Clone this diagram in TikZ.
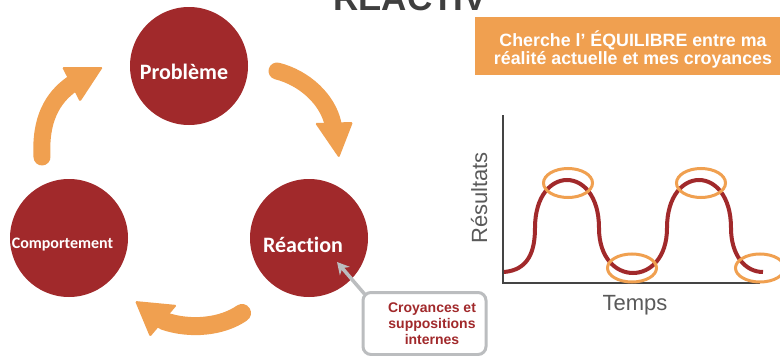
\documentclass[tikz,border=0pt]{standalone}
\usepackage{fontspec}
\setmainfont{Liberation Sans}
\newfontfamily\calfont[Ligatures={NoCommon}]{Carlito}
\usetikzlibrary{arrows.meta}
\definecolor{brick}{HTML}{A1292B}
\definecolor{tangerine}{HTML}{F0A050}
\definecolor{ash}{HTML}{BBBDBF}
\definecolor{charcoal}{HTML}{3F3F3F}
\definecolor{axisgrey}{HTML}{444444}
\definecolor{labelgrey}{HTML}{5A5A5A}

\begin{document}
\begin{tikzpicture}[x=1pt,y=-1pt,
  stage/.style={circle, fill=brick, minimum size=118pt, inner sep=0pt},
  stagetext/.style={text=white, inner sep=0pt, anchor=base, font=\calfont\bfseries\fontsize{22}{24}\selectfont},
  bodyline/.style={draw=tangerine, line width=17pt, line cap=round},
  headtri/.style={fill=tangerine, rounded corners=1.5pt},
  peakring/.style={draw=tangerine, line width=3pt},
  axisline/.style={draw=axisgrey, line width=2.5pt},
  axislabel/.style={text=labelgrey, inner sep=0pt, font=\fontsize{22}{24}\selectfont},
]
\clip (0,0) rectangle (780,356);
\fill[white] (0,0) rectangle (780,356);

% title, mostly above the page edge
\node[anchor=base west, inner sep=0pt, text=charcoal,
      font=\bfseries\fontsize{35}{40}\selectfont] (title) at (333,10) {RÉACTIV};

% banner at the top right (multi-line nodes sit on their last baseline)
\node[fill=tangerine, minimum width=305pt, minimum height=58pt, inner sep=0pt] (banner) at (627.5,46) {};
\node[anchor=base, inner sep=0pt, align=center, text=white,
      font=\bfseries\fontsize{17.8}{18}\selectfont] (bannertext) at (633,64)
      {Cherche l’ ÉQUILIBRE entre ma\\réalité actuelle et mes croyances};

% the three stages of the cycle
\node[stage] (prob) at (189,66) {};
\node[stagetext] (probtxt) at (184,79) {Problème};
\node[stage] (reac) at (309,238) {};
\node[stagetext] (reactxt) at (303,252) {Réaction};
\node[stage] (comp) at (69,238) {};
\node[stagetext, font=\calfont\bfseries\fontsize{16}{18}\selectfont] (comptxt) at (62.5,248) {Comportement};

% curved arrows between the stages
\coordinate (a1s) at (42,157);
\coordinate (a1e) at (72,84);
\draw[bodyline] (a1s) .. controls (40,120) and (52,98) .. (a1e);
\fill[headtri] (62,67) -- (103,67) -- (80,102) -- cycle;

\coordinate (a2s) at (277,71);
\coordinate (a2e) at (333,124);
\draw[bodyline] (a2s) .. controls (305,78) and (328,100) .. (a2e);
\fill[headtri] (315,123) -- (353,122) -- (339,158) -- cycle;

\coordinate (a3s) at (242,313);
\coordinate (a3e) at (164,321);
\draw[bodyline, line width=18pt] (a3s) .. controls (222,327) and (190,330) .. (a3e);
\fill[headtri] (135,301) -- (177,305) -- (150,337) -- cycle;

% callout for beliefs
\node[draw=ash, line width=3pt, rounded corners=8pt, minimum width=123pt,
      minimum height=62pt, inner sep=0pt] (belief) at (424.5,323.5) {};
\node[anchor=base, inner sep=0pt, align=center, text=brick,
      font=\bfseries\fontsize{14}{16}\selectfont] (belieftext) at (432,344)
      {Croyances et\\suppositions\\internes};
\coordinate (ctip) at (337,262);
\draw[ash, line width=3.5pt, -{Stealth[length=12pt,width=13pt]}]
      ([shift={(3,3)}]belief.north west) -- (ctip);

% results over time
\coordinate (ytop) at (503,115);
\coordinate (origin) at (503,283);
\coordinate (xend) at (760,283);
\draw[axisline] (ytop) -- (origin) -- (xend);
\node[axislabel, anchor=base, rotate=90] (ylab) at (487,198) {Résultats};
\node[axislabel, anchor=base] (xlab) at (635,310) {Temps};

\draw[brick, line width=4pt] (504,272) .. controls (528,270) and (535,252) .. (535,228)
  .. controls (535,164) and (599,164) .. (599,228)
  .. controls (599,288) and (667,288) .. (667,228)
  .. controls (667,164) and (731,164) .. (731,228)
  .. controls (731,255) and (745,272) .. (763,272);

\draw[peakring] (568,183) ellipse [x radius=24.5, y radius=14.5];
\draw[peakring] (701,183) ellipse [x radius=24.5, y radius=14.5];
\draw[peakring] (632,268) ellipse [x radius=24.5, y radius=14];
\draw[peakring] (760,268) ellipse [x radius=24.5, y radius=14];
\end{tikzpicture}
\end{document}
